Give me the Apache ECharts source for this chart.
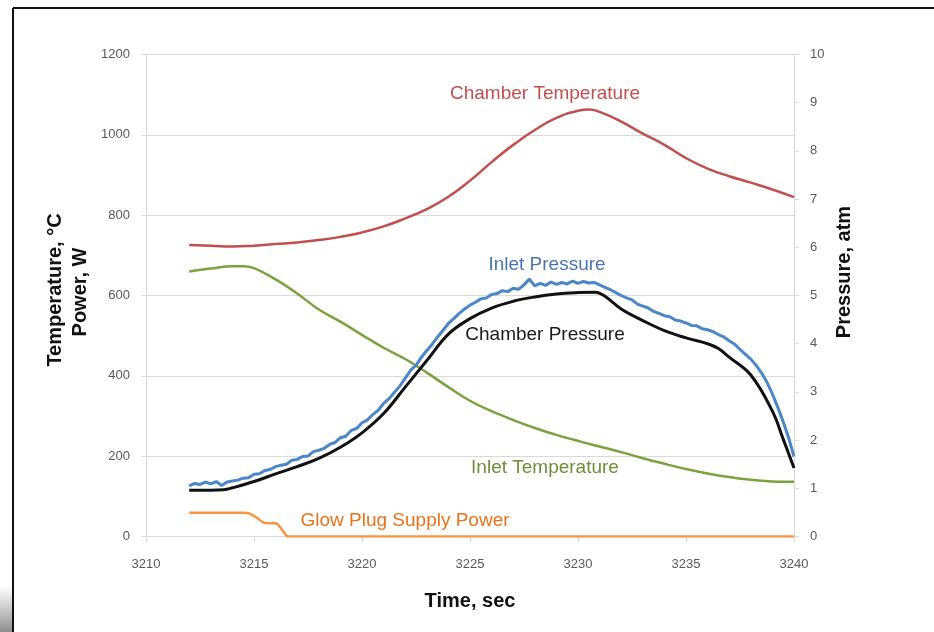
<!DOCTYPE html>
<html><head><meta charset="utf-8">
<script src="https://cdn.jsdelivr.net/npm/echarts@6/dist/echarts.min.js"></script>
<style>html,body{margin:0;padding:0;background:#fff;}#c{width:934px;height:632px;}</style>
</head><body><div id="c"></div>
<script>
// ---- data ----
const xTicks = [3210, 3215, 3220, 3225, 3230, 3235, 3240];
const chamberTemperature = [[3212,726],[3213,724],[3214,722],[3215,724],[3216,728],[3217,732],[3218,738],[3219,746],[3220,757],[3221,772],[3222,792],[3223,815],[3224,846],[3225,886],[3226,932],[3227,975],[3228,1012],[3229,1042],[3230,1060],[3230.5,1063],[3231,1057],[3232,1033],[3233,1003],[3234,975],[3235,942],[3236,916],[3237,897],[3238,881],[3239,864],[3240,845]];
const inletTemperature = [[3212,660],[3213,667],[3214,673],[3214.5,673],[3215,668],[3216,640],[3217,605],[3218,565],[3219,535],[3220,502],[3221,470],[3222,442],[3223,408],[3224,372],[3225,338],[3226,312],[3227,290],[3228,270],[3229,253],[3230,238],[3231,224],[3232,210],[3233,195],[3234,181],[3235,168],[3236,157],[3237,148],[3238,141],[3239,137],[3240,136]];
const glowPlugPower = [[3212,59],[3214.5,59],[3214.8,57],[3215.1,48],[3215.4,36],[3215.6,33],[3216,33],[3216.2,24],[3216.5,2],[3216.6,0],[3240,0]];
const chamberPressure = [[3212,0.96],[3213,0.96],[3213.6,0.97],[3214,1.01],[3215,1.14],[3216,1.30],[3217,1.45],[3218,1.62],[3219,1.85],[3220,2.15],[3221,2.55],[3222,3.10],[3223,3.65],[3224,4.20],[3225,4.52],[3226,4.74],[3227,4.88],[3228,4.97],[3229,5.03],[3230,5.06],[3230.8,5.07],[3231.2,5.00],[3232,4.72],[3233,4.48],[3234,4.27],[3235,4.12],[3236,4.00],[3236.5,3.90],[3237,3.72],[3238,3.35],[3239,2.60],[3239.5,2.02],[3240,1.42]];
const inletPressure = [[3212.00,1.05],[3212.25,1.10],[3212.50,1.08],[3212.75,1.13],[3213.00,1.09],[3213.25,1.14],[3213.50,1.06],[3213.75,1.13],[3214.00,1.15],[3214.25,1.17],[3214.50,1.21],[3214.75,1.22],[3215.00,1.29],[3215.25,1.30],[3215.50,1.37],[3215.75,1.39],[3216.00,1.45],[3216.25,1.48],[3216.50,1.50],[3216.75,1.58],[3217.00,1.60],[3217.25,1.66],[3217.50,1.67],[3217.75,1.76],[3218.00,1.79],[3218.25,1.83],[3218.50,1.91],[3218.75,1.95],[3219.00,2.05],[3219.25,2.08],[3219.50,2.20],[3219.75,2.24],[3220.00,2.36],[3220.25,2.42],[3220.50,2.53],[3220.75,2.62],[3221.00,2.76],[3221.25,2.86],[3221.50,2.99],[3221.75,3.12],[3222.00,3.28],[3222.25,3.45],[3222.50,3.55],[3222.75,3.72],[3223.00,3.86],[3223.25,3.99],[3223.50,4.14],[3223.75,4.28],[3224.00,4.42],[3224.25,4.52],[3224.50,4.63],[3224.75,4.72],[3225.00,4.80],[3225.25,4.86],[3225.50,4.93],[3225.75,4.95],[3226.00,5.02],[3226.25,5.04],[3226.50,5.10],[3226.75,5.08],[3227.00,5.15],[3227.25,5.13],[3227.50,5.22],[3227.75,5.34],[3228.00,5.20],[3228.25,5.25],[3228.50,5.21],[3228.75,5.28],[3229.00,5.23],[3229.25,5.27],[3229.50,5.24],[3229.75,5.30],[3230.00,5.25],[3230.25,5.29],[3230.50,5.26],[3230.75,5.27],[3231.00,5.22],[3231.25,5.17],[3231.50,5.12],[3231.75,5.06],[3232.00,5.00],[3232.25,4.95],[3232.50,4.91],[3232.75,4.82],[3233.00,4.78],[3233.25,4.74],[3233.50,4.67],[3233.75,4.63],[3234.00,4.58],[3234.25,4.56],[3234.50,4.49],[3234.75,4.47],[3235.00,4.43],[3235.25,4.38],[3235.50,4.37],[3235.75,4.31],[3236.00,4.29],[3236.25,4.25],[3236.50,4.19],[3236.75,4.14],[3237.00,4.06],[3237.25,3.99],[3237.50,3.88],[3237.75,3.78],[3238.00,3.68],[3238.25,3.55],[3238.50,3.39],[3238.75,3.20],[3239.00,2.96],[3239.25,2.68],[3239.50,2.38],[3239.75,2.05],[3240.00,1.66]];
const seriesNames = ['Chamber Temperature','Inlet Temperature','Glow Plug Supply Power','Inlet Pressure','Chamber Pressure'];

const chart = echarts.init(document.getElementById('c'), null, {renderer:'canvas'});
const FONT = 'Liberation Sans, Arial, sans-serif';
const plain = v => String(v);
const tickLabel = {color:'#595959', fontSize:13, fontFamily:FONT, formatter:plain};
const axisGrey = '#D9D9D9';
chart.setOption({
  animation:false,
  backgroundColor:'#fff',
  grid:{left:146, right:140, top:54.5, bottom:95.5, containLabel:false},
  xAxis:{type:'value', min:3210, max:3240, interval:5,
    axisLine:{show:true, lineStyle:{color:axisGrey, width:1}},
    axisTick:{show:true, length:5, lineStyle:{color:axisGrey}},
    axisLabel:Object.assign({margin:21}, tickLabel),
    splitLine:{show:false}},
  yAxis:[
    {type:'value', min:0, max:1200, interval:200, position:'left',
     axisLine:{show:true, lineStyle:{color:axisGrey}},
     axisTick:{show:true, length:5, lineStyle:{color:axisGrey}},
     axisLabel:Object.assign({margin:16}, tickLabel),
     splitLine:{show:true, lineStyle:{color:axisGrey, width:1}}},
    {type:'value', min:0, max:10, interval:1, position:'right',
     axisLine:{show:true, lineStyle:{color:axisGrey}},
     axisTick:{show:true, length:5, lineStyle:{color:axisGrey}},
     axisLabel:Object.assign({margin:16}, tickLabel),
     splitLine:{show:false}}
  ],
  series:[
    {name:seriesNames[0], type:'line', yAxisIndex:0, data:chamberTemperature, smooth:0.5, showSymbol:false, lineStyle:{color:'#C0504D', width:2.5}},
    {name:seriesNames[1], type:'line', yAxisIndex:0, data:inletTemperature, smooth:0.4, showSymbol:false, lineStyle:{color:'#7AA33F', width:2.5}},
    {name:seriesNames[2], type:'line', yAxisIndex:0, data:glowPlugPower, smooth:0.3, showSymbol:false, lineStyle:{color:'#F79646', width:2.5}},
    {name:seriesNames[3], type:'line', yAxisIndex:1, data:inletPressure, smooth:false, showSymbol:false, lineStyle:{color:'#4A86C8', width:3}},
    {name:seriesNames[4], type:'line', yAxisIndex:1, data:chamberPressure, smooth:0.4, showSymbol:false, lineStyle:{color:'#111', width:3}}
  ],
  graphic:[
    {type:'line', shape:{x1:13, y1:8, x2:934, y2:8}, style:{stroke:'#111', lineWidth:2}},
    {type:'line', shape:{x1:13, y1:8, x2:13, y2:632}, style:{stroke:'#111', lineWidth:2}},
    {type:'rect', shape:{x:0, y:585, width:12, height:47}, style:{fill:new echarts.graphic.LinearGradient(0,0,0,1,[{offset:0,color:'rgba(160,160,160,0)'},{offset:1,color:'rgba(140,140,140,1)'}])}},
    {type:'text', x:545, y:94, style:{text:'Chamber Temperature', fill:'#C0504D', font:'19px '+FONT, textAlign:'center', textVerticalAlign:'middle'}},
    {type:'text', x:547, y:265, style:{text:'Inlet Pressure', fill:'#4A75AD', font:'19px '+FONT, textAlign:'center', textVerticalAlign:'middle'}},
    {type:'text', x:545, y:335, style:{text:'Chamber Pressure', fill:'#1a1a1a', font:'19px '+FONT, textAlign:'center', textVerticalAlign:'middle'}},
    {type:'text', x:545, y:468, style:{text:'Inlet Temperature', fill:'#6E8E3A', font:'19px '+FONT, textAlign:'center', textVerticalAlign:'middle'}},
    {type:'text', x:405, y:521, style:{text:'Glow Plug Supply Power', fill:'#E8731A', font:'19px '+FONT, textAlign:'center', textVerticalAlign:'middle'}},
    {type:'text', x:470, y:601, style:{text:'Time, sec', fill:'#111', font:'bold 20px '+FONT, textAlign:'center', textVerticalAlign:'middle'}},
    {type:'text', x:55, y:290, rotation:Math.PI/2, style:{text:'Temperature, °C', fill:'#111', font:'bold 20px '+FONT, textAlign:'center', textVerticalAlign:'middle'}},
    {type:'text', x:80, y:292, rotation:Math.PI/2, style:{text:'Power, W', fill:'#111', font:'bold 20px '+FONT, textAlign:'center', textVerticalAlign:'middle'}},
    {type:'text', x:844, y:272, rotation:Math.PI/2, style:{text:'Pressure, atm', fill:'#111', font:'bold 20px '+FONT, textAlign:'center', textVerticalAlign:'middle'}}
  ]
});
</script></body></html>
